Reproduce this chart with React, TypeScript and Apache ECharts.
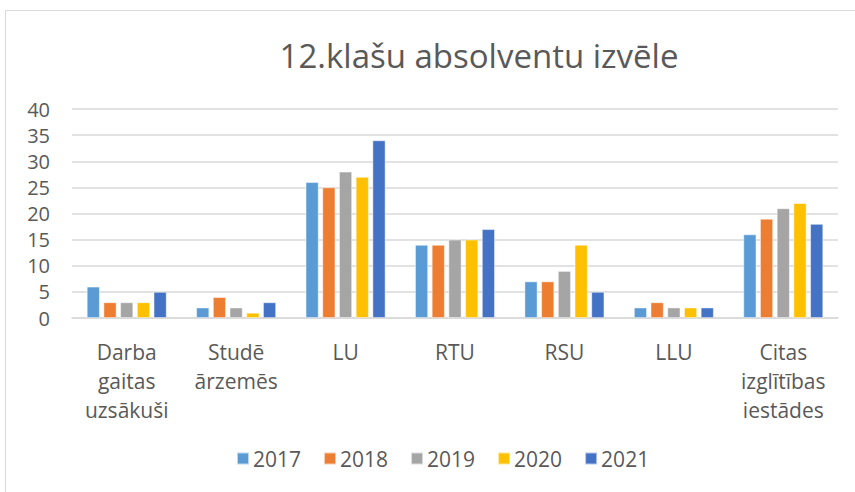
import React, { useEffect, useRef } from "react";
import * as echarts from "echarts";

const categories = [
  "Darba\ngaitas\nuzsākuši",
  "Studē\nārzemēs",
  "LU",
  "RTU",
  "RSU",
  "LLU",
  "Citas\nizglītības\niestādes",
];
const years = ["2017", "2018", "2019", "2020", "2021"];
const v2017 = [6, 2, 26, 14, 7, 2, 16];
const v2018 = [3, 4, 25, 14, 7, 3, 19];
const v2019 = [3, 2, 28, 15, 9, 2, 21];
const v2020 = [3, 1, 27, 15, 14, 2, 22];
const v2021 = [5, 3, 34, 17, 5, 2, 18];
const yTicks = [0, 5, 10, 15, 20, 25, 30, 35, 40];
const colors = ["#5B9BD5", "#ED7D31", "#A5A5A5", "#FFC000", "#4472C4"];

const FONT = "'Open Sans', sans-serif";

export default function App() {
  const ref = useRef<HTMLDivElement>(null);
  useEffect(() => {
    if (!ref.current) return;
    const chart = echarts.init(ref.current, null, { renderer: "svg" });
    const seriesValues = [v2017, v2018, v2019, v2020, v2021];
    chart.setOption({
      animation: false,
      color: colors,
      textStyle: { fontFamily: FONT },
      title: {
        text: "12.klašu absolventu izvēle",
        left: 474,
        top: 34,
        textAlign: "center",
        textStyle: { fontFamily: FONT, fontSize: 33, fontWeight: "normal", color: "#595959" },
      },
      graphic: [
        {
          type: "rect",
          shape: { x: 5.5, y: 10.5, width: 860, height: 500 },
          style: { fill: "none", stroke: "#d9d9d9", lineWidth: 1 },
          silent: true,
        },
      ],
      legend: {
        data: years,
        bottom: 18,
        left: 231,
        itemWidth: 12,
        itemHeight: 12,
        itemGap: 22,
        icon: "rect",
        textStyle: { fontFamily: FONT, fontSize: 21, color: "#595959", padding: [0, 0, 0, -1] },
      },
      grid: { left: 72, right: 17, top: 109, bottom: 174 },
      xAxis: {
        type: "category",
        data: categories,
        axisLine: { lineStyle: { color: "#d9d9d9", width: 1.5 } },
        axisTick: { show: false },
        axisLabel: {
          fontFamily: FONT,
          fontSize: 21,
          color: "#595959",
          lineHeight: 29,
          margin: 19,
          interval: 0,
        },
      },
      yAxis: {
        type: "value",
        min: yTicks[0],
        max: yTicks[yTicks.length - 1],
        interval: 5,
        axisLine: { show: false },
        axisTick: { show: false },
        splitLine: { lineStyle: { color: "#d9d9d9", width: 1.5 } },
        axisLabel: { fontFamily: FONT, fontSize: 20, color: "#595959", margin: 22 },
      },
      series: years.map((y, i) => ({
        name: y,
        type: "bar",
        data: seriesValues[i],
        barGap: "28%",
        barCategoryGap: "27%",
        itemStyle: { color: colors[i], borderColor: "rgba(255,255,255,0.6)", borderWidth: 0.8 },
      })),
    });
    return () => chart.dispose();
  }, []);
  return (
    <div
      ref={ref}
      style={{ position: "absolute", left: 0, top: 0, width: 855, height: 492, background: "#fff" }}
    />
  );
}
